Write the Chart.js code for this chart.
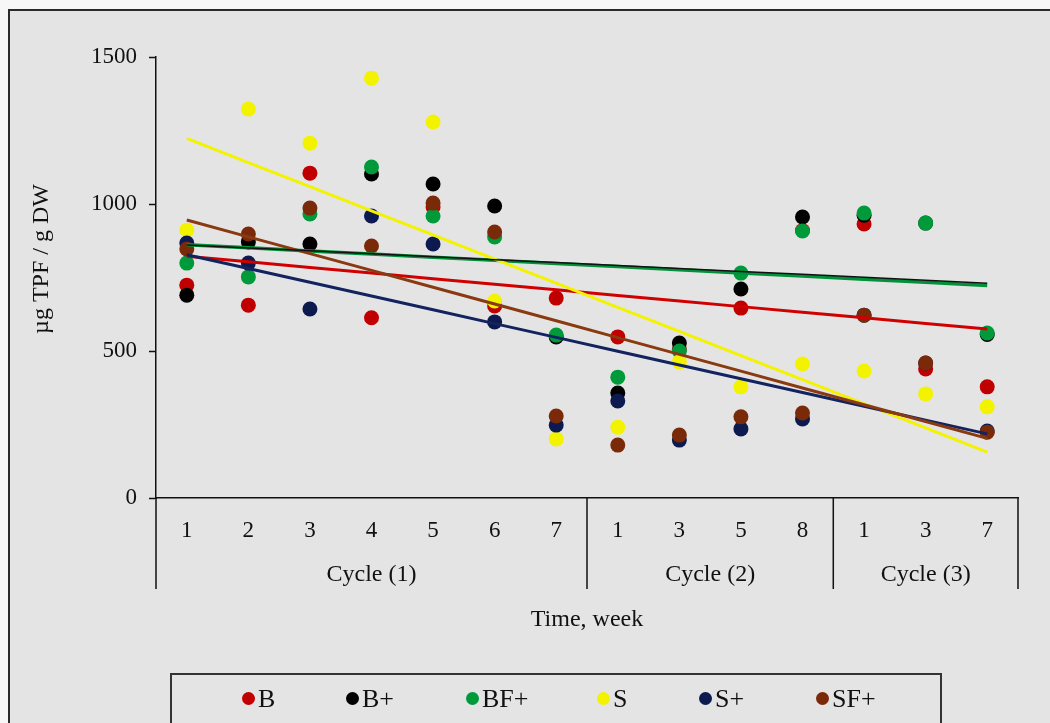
<!DOCTYPE html>
<html>
<head>
<meta charset="utf-8">
<title>TPF over time</title>
<script src="https://cdn.jsdelivr.net/npm/chart.js@4.4.0/dist/chart.umd.min.js"></script>
<style>
  html, body { margin: 0; padding: 0; overflow: hidden; background: #f7f7f7; }
  #frame { position: absolute; left: 8px; top: 9px; width: 1100px; height: 800px; border: 2px solid #2a2a2a; background: #e4e4e4; }
  #wrap { position: absolute; left: 0; top: 0; width: 1050px; height: 723px; }
  #legend { position: absolute; left: 170px; top: 673px; width: 768px; height: 80px; border: 2px solid #333;
            font-family: "Liberation Serif", serif; font-size: 26px; color: #111; }
  .item { position: absolute; top: 10px; line-height: 28px; white-space: nowrap; }
  .dot { display: inline-block; width: 13px; height: 13px; border-radius: 50%; margin-right: 3px; vertical-align: 2px; }
</style>
</head>
<body>
<div id="frame"></div>
<div id="wrap"><canvas id="tpfChart"></canvas></div>
<div id="legend"></div>
<script>
// x categories (week inside each cycle)
const weekLabels = ['1', '2', '3', '4', '5', '6', '7', '1', '3', '5', '8', '1', '3', '7'];
const cycleNames = ['Cycle (1)', 'Cycle (2)', 'Cycle (3)'];
const cycleSizes = [7, 4, 3];
const yTicks = [0, 500, 1000, 1500];

const seriesNames = ['B', 'B+', 'BF+', 'S', 'S+', 'SF+'];
const B      = [724, 656, 1105, 613, 990, 653, 680, 548, 505, 646, 910, 932, 439, 378];
const Bplus  = [690, 871, 864, 1102, 1068, 993, 548, 357, 527, 711, 956, 962, 935, 556];
const BFplus = [799, 752, 966, 1126, 959, 888, 554, 411, 500, 765, 908, 969, 935, 561];
const S      = [911, 1323, 1207, 1428, 1279, 670, 201, 241, 463, 378, 456, 432, 354, 310];
const Splus  = [867, 799, 643, 959, 864, 599, 248, 330, 197, 235, 269, 622, 459, 228];
const SFplus = [847, 898, 986, 857, 1003, 905, 279, 180, 214, 276, 289, 622, 459, 224];

const seriesData = [B, Bplus, BFplus, S, Splus, SFplus];
const seriesColors = ['#c00000', '#000000', '#009a3a', '#f3f300', '#0c1a4f', '#7a2a08'];
const lineColors = ['#d00000', '#111111', '#00913a', '#f3f300', '#13235f', '#8a3a10'];
const lineWidths = [3, 1.5, 3.5, 3, 3, 3];
const lineOrder = [9, 1, 8, 7, 6, 5];
const legendDotX = [70, 174, 294, 425, 527, 644];

const serif = '"Liberation Serif", "Times New Roman", serif';

// least squares trend over the category index, like the excel trendline
function trend(values) {
    const n = values.length;
    const mx = (n + 1) / 2;
    const my = values.reduce((a, b) => a + b, 0) / n;
    let sxy = 0, sxx = 0;
    values.forEach((v, i) => {
        sxy += (i + 1 - mx) * (v - my);
        sxx += (i + 1 - mx) * (i + 1 - mx);
    });
    const slope = sxy / sxx;
    return values.map((v, i) => my + slope * (i + 1 - mx));
}

const datasets = [];
seriesData.forEach((vals, i) => {
    datasets.push({
        label: seriesNames[i],
        data: vals,
        showLine: false,
        pointRadius: 7.5,
        pointHoverRadius: 7.5,
        pointBorderWidth: 0,
        pointBackgroundColor: seriesColors[i],
        order: 20 - i
    });
});
seriesData.forEach((vals, i) => {
    datasets.push({
        label: seriesNames[i] + ' trend',
        data: trend(vals),
        borderColor: lineColors[i],
        borderWidth: lineWidths[i],
        pointRadius: 0,
        tension: 0,
        order: lineOrder[i]
    });
});

const cycleBoxes = {
    id: 'cycleBoxes',
    afterDraw(chart) {
        const { ctx, chartArea } = chart;
        const step = (chartArea.right - chartArea.left) / weekLabels.length;
        const edges = [chartArea.left];
        let count = 0;
        cycleSizes.forEach(n => { count += n; edges.push(chartArea.left + count * step); });

        ctx.save();
        ctx.strokeStyle = '#111';
        ctx.lineWidth = 1.5;
        edges.forEach(px => {
            ctx.beginPath();
            ctx.moveTo(px, chartArea.bottom);
            ctx.lineTo(px, chartArea.bottom + 91);
            ctx.stroke();
        });

        ctx.fillStyle = '#111';
        ctx.textAlign = 'center';
        ctx.textBaseline = 'middle';
        ctx.font = '24px ' + serif;
        cycleNames.forEach((name, i) => {
            ctx.fillText(name, (edges[i] + edges[i + 1]) / 2, chartArea.bottom + 77);
        });
        ctx.fillText('Time, week', (chartArea.left + chartArea.right) / 2, chartArea.bottom + 122);

        ctx.font = '24px ' + serif;
        ctx.translate(42, 259);
        ctx.rotate(-Math.PI / 2);
        ctx.fillText('µg TPF / g DW', 0, 0);
        ctx.restore();
    }
};

new Chart(document.getElementById('tpfChart'), {
    type: 'line',
    data: { labels: weekLabels, datasets: datasets },
    options: {
        responsive: true,
        maintainAspectRatio: false,
        animation: false,
        layout: { padding: { top: 57, right: 32, left: 0, bottom: 0 } },
        plugins: { legend: { display: false }, tooltip: { enabled: false } },
        scales: {
            x: {
                offset: true,
                grid: { display: false, drawTicks: false },
                border: { color: '#111', width: 1.5 },
                ticks: { font: { family: serif, size: 23 }, color: '#111', padding: 19, maxRotation: 0 },
                afterFit: s => { s.height = 225; }
            },
            y: {
                min: 0,
                max: 1500,
                afterBuildTicks: s => { s.ticks = yTicks.map(v => ({ value: v })); },
                grid: { drawOnChartArea: false, tickLength: 7, tickColor: '#111', tickWidth: 1.5 },
                border: { color: '#111', width: 1.5 },
                ticks: { font: { family: serif, size: 23 }, color: '#111', padding: 12, callback: v => String(v) },
                afterFit: s => { s.width = 156; }
            }
        }
    },
    plugins: [cycleBoxes]
});

const legend = document.getElementById('legend');
seriesNames.forEach((name, i) => {
    const item = document.createElement('div');
    item.className = 'item';
    item.style.left = legendDotX[i] + 'px';
    item.innerHTML = '<span class="dot" style="background:' + seriesColors[i] + '"></span>' + name;
    legend.appendChild(item);
});
</script>
</body>
</html>
